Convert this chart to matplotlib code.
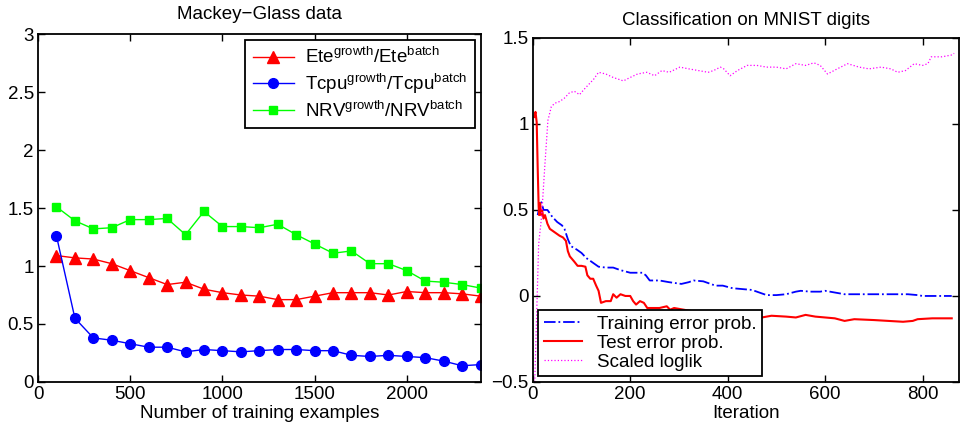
import matplotlib
matplotlib.use('Agg')
import numpy as np
import matplotlib.pyplot as plt

plt.rcParams['font.family'] = ['Liberation Sans', 'DejaVu Sans']
plt.rcParams['mathtext.default'] = 'regular'

# Mackey-Glass data
n_train = [100, 200, 300, 400, 500, 600, 700, 800, 900, 1000, 1100, 1200,
           1300, 1400, 1500, 1600, 1700, 1800, 1900, 2000, 2100, 2200, 2300, 2400]
ete = [1.09, 1.07, 1.06, 1.02, 0.96, 0.90, 0.84, 0.86, 0.80, 0.77, 0.75, 0.74,
       0.71, 0.71, 0.74, 0.77, 0.77, 0.77, 0.75, 0.78, 0.77, 0.77, 0.76, 0.74]
tcpu = [1.26, 0.55, 0.38, 0.36, 0.33, 0.30, 0.30, 0.26, 0.28, 0.27, 0.26, 0.27,
        0.28, 0.28, 0.27, 0.27, 0.23, 0.22, 0.23, 0.22, 0.21, 0.18, 0.14, 0.15]
nrv = [1.51, 1.39, 1.32, 1.33, 1.40, 1.40, 1.41, 1.27, 1.47, 1.34, 1.34, 1.33,
       1.36, 1.27, 1.19, 1.11, 1.13, 1.02, 1.02, 0.96, 0.87, 0.86, 0.84, 0.81]

# MNIST
train_it = [10, 14, 17, 22, 30, 40, 50, 60, 65, 72, 78, 90, 100, 110, 120, 135, 150, 165,
            180, 200, 225, 232, 240, 260, 280, 305, 320, 330, 350, 375, 390, 410, 430, 450,
            465, 480, 500, 520, 540, 550, 570, 590, 600, 620, 640, 670, 700, 740, 770, 790,
            800, 830, 860]
train_err = [0.47, 0.52, 0.55, 0.50, 0.50, 0.46, 0.43, 0.41, 0.39, 0.33, 0.29, 0.27, 0.25,
             0.22, 0.20, 0.17, 0.165, 0.165, 0.15, 0.135, 0.135, 0.12, 0.09, 0.09, 0.08,
             0.07, 0.08, 0.09, 0.085, 0.06, 0.06, 0.045, 0.04, 0.035, 0.02, 0.005, 0.005,
             0.01, 0.025, 0.03, 0.025, 0.025, 0.03, 0.02, 0.01, 0.01, 0.01, 0.01, 0.01,
             0.005, 0.0, 0.0, 0.0]

test_it = [3, 5.5, 8, 10, 12, 13, 15, 17, 19, 22, 25, 30, 35, 45, 55, 62, 68, 72, 76, 85,
           92, 100, 108, 112, 118, 124, 130, 135, 140, 150, 160, 165, 172, 180, 190, 200,
           206, 212, 220, 228, 235, 242, 260, 275, 282, 290, 330, 380, 430, 470, 490, 520,
           540, 560, 580, 600, 620, 640, 660, 700, 730, 760, 780, 790, 820, 860]
test_err = [1.04, 1.07, 1.01, 0.75, 0.52, 0.47, 0.54, 0.47, 0.50, 0.45, 0.47, 0.42, 0.39,
            0.37, 0.35, 0.34, 0.32, 0.26, 0.23, 0.20, 0.175, 0.175, 0.17, 0.12, 0.10, 0.10,
            0.06, 0.03, -0.04, -0.03, -0.03, 0.01, -0.01, 0.01, 0.0, 0.0, -0.03, -0.05,
            -0.03, -0.04, -0.07, -0.07, -0.07, -0.06, -0.08, -0.07, -0.09, -0.10, -0.12,
            -0.125, -0.115, -0.12, -0.125, -0.11, -0.12, -0.125, -0.13, -0.145, -0.135,
            -0.14, -0.145, -0.15, -0.145, -0.135, -0.13, -0.13]

ll_it = [4, 8, 12, 18, 25, 31, 38, 45, 55, 65, 75, 85, 96, 105, 115, 125, 135, 150, 165,
         186, 200, 215, 234, 250, 265, 280, 302, 320, 340, 360, 371, 385, 392, 405, 420,
         440, 460, 480, 500, 520, 540, 560, 577, 590, 605, 625, 646, 670, 690, 715, 735,
         749, 765, 783, 800, 811, 818, 840, 859, 865]
loglik = [-0.5, -0.1, 0.3, 0.46, 0.77, 1.02, 1.1, 1.12, 1.13, 1.15, 1.18, 1.19, 1.17, 1.2,
          1.23, 1.26, 1.3, 1.29, 1.27, 1.25, 1.27, 1.29, 1.30, 1.28, 1.31, 1.30, 1.33, 1.32,
          1.31, 1.30, 1.31, 1.33, 1.32, 1.28, 1.31, 1.34, 1.34, 1.33, 1.33, 1.32, 1.35, 1.34,
          1.355, 1.34, 1.29, 1.32, 1.35, 1.33, 1.32, 1.33, 1.32, 1.30, 1.31, 1.35, 1.34,
          1.35, 1.39, 1.39, 1.40, 1.41]

fs = 13.5

def matlab_axes(ax):
    ax.tick_params(direction='in', top=True, right=True, labelsize=fs, length=5, width=1)
    ax.tick_params(axis='x', pad=3)
    ax.tick_params(axis='y', pad=3)
    for s in ax.spines.values():
        s.set_linewidth(1.3)

fig = plt.figure(figsize=(9.6, 4.28), dpi=100)

ax1 = fig.add_axes([0.0396, 0.1075, 0.461, 0.813])
ax1.plot(n_train, ete, '-^', color='red', markersize=8, lw=1,
         label=r'Ete$^{growth}$/Ete$^{batch}$')
ax1.plot(n_train, tcpu, '-o', color='blue', markersize=7, lw=1,
         label=r'Tcpu$^{growth}$/Tcpu$^{batch}$')
ax1.plot(n_train, nrv, '-s', color=(0, 1, 0), markersize=6, lw=1,
         label=r'NRV$^{growth}$/NRV$^{batch}$')
ax1.set_xlim(0, 2400)
ax1.set_ylim(0, 3)
ax1.set_xticks([0, 500, 1000, 1500, 2000])
ax1.set_yticks([0, 0.5, 1, 1.5, 2, 2.5, 3])
ax1.set_yticklabels(['0', '0.5', '1', '1.5', '2', '2.5', '3'])
matlab_axes(ax1)
ax1.set_xlabel('Number of training examples', fontsize=fs, labelpad=1)
ax1.set_title('Mackey\u2212Glass data', fontsize=13.5, pad=11)
leg1 = ax1.legend(loc='upper right', fontsize=fs, fancybox=False, edgecolor='black',
                  framealpha=1, borderaxespad=0.3, handlelength=2.2, labelspacing=0.25,
                  handletextpad=0.6)
leg1.get_frame().set_linewidth(1.3)

ax2 = fig.add_axes([0.555, 0.1075, 0.444, 0.804])
ax2.plot(train_it, train_err, '-.', color='blue', lw=1.3, label='Training error prob.')
ax2.plot(test_it, test_err, '-', color='red', lw=1.5, label='Test error prob.')
ax2.plot(ll_it, loglik, ':', color='magenta', lw=0.9, label='Scaled loglik')
ax2.set_xlim(0, 875)
ax2.set_ylim(-0.5, 1.5)
ax2.set_xticks([0, 200, 400, 600, 800])
ax2.set_yticks([-0.5, 0, 0.5, 1, 1.5])
ax2.set_yticklabels(['\u22120.5', '0', '0.5', '1', '1.5'])
matlab_axes(ax2)
ax2.set_xlabel('Iteration', fontsize=fs, labelpad=1)
ax2.set_title('Classification on MNIST digits', fontsize=13.5, pad=9)
leg2 = ax2.legend(loc='lower left', fontsize=fs, fancybox=False, edgecolor='black',
                  framealpha=1, borderaxespad=0.3, handlelength=2.0, labelspacing=0.1,
                  borderpad=0.3)
leg2.get_frame().set_linewidth(1.3)

fig.savefig('out.png', dpi=100)
